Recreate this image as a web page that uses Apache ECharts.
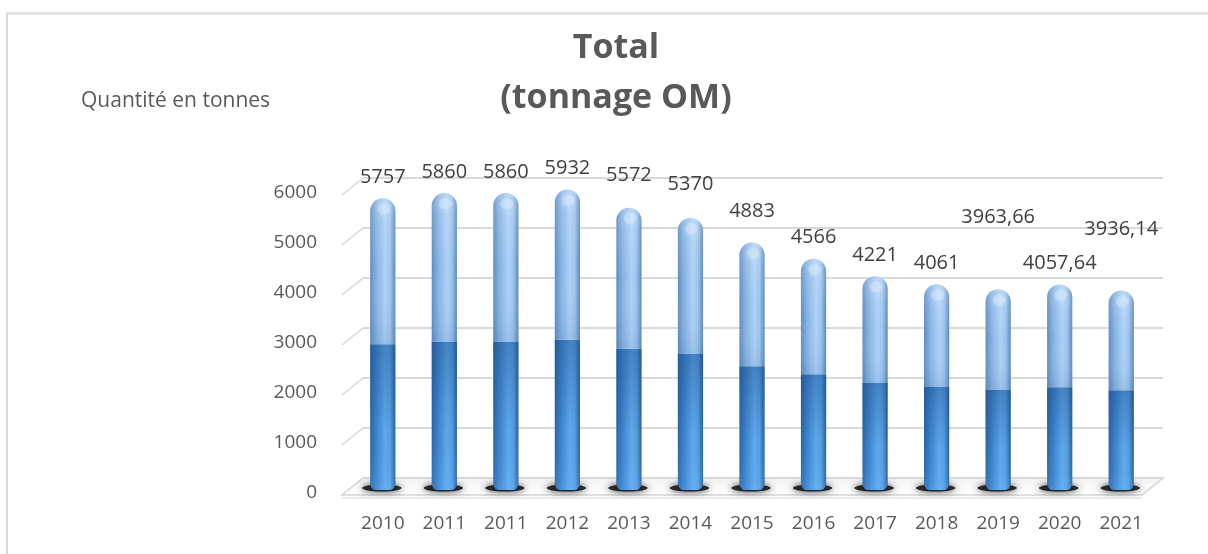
<!DOCTYPE html>
<html><head><meta charset="utf-8">
<script src="https://cdn.jsdelivr.net/npm/echarts@6/dist/echarts.min.js"></script>
<style>html,body{margin:0;padding:0;background:#fff}#c{width:1208px;height:554px}</style>
</head><body><div id="c"></div>
<script>
const categories = ["2010","2011","2011","2012","2013","2014","2015","2016","2017","2018","2019","2020","2021"];
const values = [5757,5860,5860,5932,5572,5370,4883,4566,4221,4061,3963.66,4057.64,3936.14];
const yTicks = [0,1000,2000,3000,4000,5000,6000];
const labelLift = [0,0,0,0,11,13,10,0,0,0,51,0,40];

const FONT = '"Open Sans", "Noto Sans", sans-serif';
const fmt = v => String(v).replace('.', ',');
const chart = echarts.init(document.getElementById('c'), null, {renderer:'canvas'});

const DX = 21, DY = 17;

function floorItem(params, api) {
  const bl = api.coord([0, 0]);
  const br = api.coord([1, 0]);
  const children = [];
  children.push({
    type: 'polygon', z2: 1,
    shape: {points: [bl, br, [br[0]-DX, br[1]+DY], [bl[0]-DX, bl[1]+DY]]},
    style: {fill: {type:'linear', x:0, y:0, x2:0, y2:1, colorStops:[{offset:0,color:'#f2f2f2'},{offset:1,color:'#ffffff'}]}, stroke:'#d4d4d4', lineWidth:1.5}
  });
  children.push({type:'line', shape:{x1:bl[0]-DX, y1:bl[1]+DY+3, x2:br[0]-DX, y2:br[1]+DY+3}, style:{stroke:'#e4e4e4', lineWidth:1.5}});
  yTicks.forEach(v => {
    if (v === 0) return;
    const a = api.coord([0, v]);
    children.push({type:'line', shape:{x1:a[0]-DX, y1:a[1]+DY, x2:a[0], y2:a[1]}, style:{stroke:'#d6d6d6', lineWidth:1.5}});
  });
  return {type:'group', children};
}

function barItem(params, api) {
  const i = api.value(0), v = api.value(1);
  const top = api.coord([i, v]);
  const mid = api.coord([i, v/2]);
  const base = api.coord([i, 0]);
  const w = api.size([1, 0])[0] * 0.41;
  const x0 = top[0] - w/2;
  const r = w/2;
  const children = [];
  // shadow
  children.push({
    type:'ellipse', shape:{cx: top[0]-1, cy: base[1]-2, rx: w*0.78, ry: 3.5},
    style:{fill:'rgba(25,25,25,0.9)', shadowBlur:7, shadowColor:'rgba(0,0,0,0.9)'}
  });
  // lower part
  children.push({
    type:'rect', shape:{x:x0, y:mid[1], width:w, height:base[1]-mid[1], r:[0,0,r*0.5,r*0.5]},
    style:{fill:{type:'linear', x:0, y:0, x2:1, y2:0, colorStops:[
      {offset:0,color:'#2c68a9'},{offset:0.25,color:'#3f87cf'},{offset:0.6,color:'#62aef2'},{offset:0.8,color:'#5aa3e6'},{offset:1,color:'#2a62a0'}]}}
  });
  children.push({
    type:'rect', shape:{x:x0, y:mid[1], width:w, height:base[1]-mid[1], r:[0,0,r*0.5,r*0.5]},
    style:{fill:{type:'linear', x:0, y:0, x2:0, y2:1, colorStops:[
      {offset:0,color:'rgba(25,70,130,0.4)'},{offset:0.6,color:'rgba(25,70,130,0.06)'},{offset:1,color:'rgba(120,190,255,0.15)'}]}}
  });
  // upper part
  children.push({
    type:'rect', shape:{x:x0, y:top[1], width:w, height:mid[1]-top[1], r:[r,r,0,0]},
    style:{fill:{type:'linear', x:0, y:0, x2:1, y2:0, colorStops:[
      {offset:0,color:'#5f8dc2'},{offset:0.25,color:'#86b2e2'},{offset:0.6,color:'#add1f6'},{offset:0.8,color:'#9cc3ec'},{offset:1,color:'#5a87bb'}]}}
  });
  children.push({
    type:'rect', shape:{x:x0, y:top[1], width:w, height:mid[1]-top[1], r:[r,r,0,0]},
    style:{fill:{type:'linear', x:0, y:0, x2:0, y2:1, colorStops:[
      {offset:0,color:'rgba(255,255,255,0.15)'},{offset:0.5,color:'rgba(255,255,255,0)'},{offset:1,color:'rgba(40,90,150,0.12)'}]}}
  });
  // cap highlight
  children.push({
    type:'ellipse', shape:{cx: top[0]+1, cy: top[1]+r*0.85, rx: r*0.5, ry: r*0.45},
    style:{fill:'rgba(225,240,255,0.4)', shadowBlur:8, shadowColor:'rgba(235,246,255,0.8)'}
  });
  // label
  children.push({
    type:'text', z2: 10,
    style:{text: fmt(v), x: top[0], y: top[1]-21-labelLift[params.dataIndex], align:'center', verticalAlign:'middle',
      font: '20px ' + FONT, fill:'#404040'}
  });
  return {type:'group', children};
}

const option = {
  backgroundColor:'#ffffff',
  animation:false,
  title:[
    {text:'Total\n(tonnage OM)', left:611, top:18, textAlign:'center',
     textStyle:{fontFamily:FONT, fontSize:34, fontWeight:'bold', color:'#595959', lineHeight:50}},
    {text:'Quantité en tonnes', left:76, top:86,
     textStyle:{fontFamily:FONT, fontSize:21, fontWeight:'normal', color:'#595959', lineHeight:21}}
  ],
  graphic:[{type:'rect', silent:true, shape:{x:7, y:13.5, width:1400, height:800}, style:{fill:'none', stroke:'#d9d9d9', lineWidth:2}}],
  grid:[
    {left:363, right:45, top:178, height:300},
    {left:342, right:45, top:193, height:300},
    {left:352, width:800, top:186, height:304}
  ],
  xAxis:[
    {type:'value', gridIndex:0, min:0, max:1, show:false},
    {type:'value', gridIndex:1, min:0, max:1, show:false},
    {type:'category', gridIndex:2, data:categories,
     axisLine:{show:false}, axisTick:{show:false},
     axisLabel:{margin:24, fontFamily:FONT, fontSize:19, color:'#595959', interval:0}}
  ],
  yAxis:[
    {type:'value', gridIndex:0, min:0, max:6000, interval:1000,
     axisLine:{show:false}, axisTick:{show:false}, axisLabel:{show:false},
     splitLine:{show:true, lineStyle:{color:'#d9d9d9', width:2}}},
    {type:'value', gridIndex:1, min:0, max:6000, interval:1000,
     axisLine:{show:false}, axisTick:{show:false}, splitLine:{show:false},
     axisLabel:{margin:25, fontFamily:FONT, fontSize:19, color:'#595959', formatter: v => String(v)}},
    {type:'value', gridIndex:2, min:0, max:6000, show:false}
  ],
  series:[
    {type:'custom', xAxisIndex:0, yAxisIndex:0, data:[[0,0]], renderItem:floorItem, silent:true, z:1},
    {type:'custom', xAxisIndex:2, yAxisIndex:2, data:values.map((v,i)=>[i,v]), renderItem:barItem, silent:true, z:3}
  ]
};
chart.setOption(option);
</script>
</body></html>
